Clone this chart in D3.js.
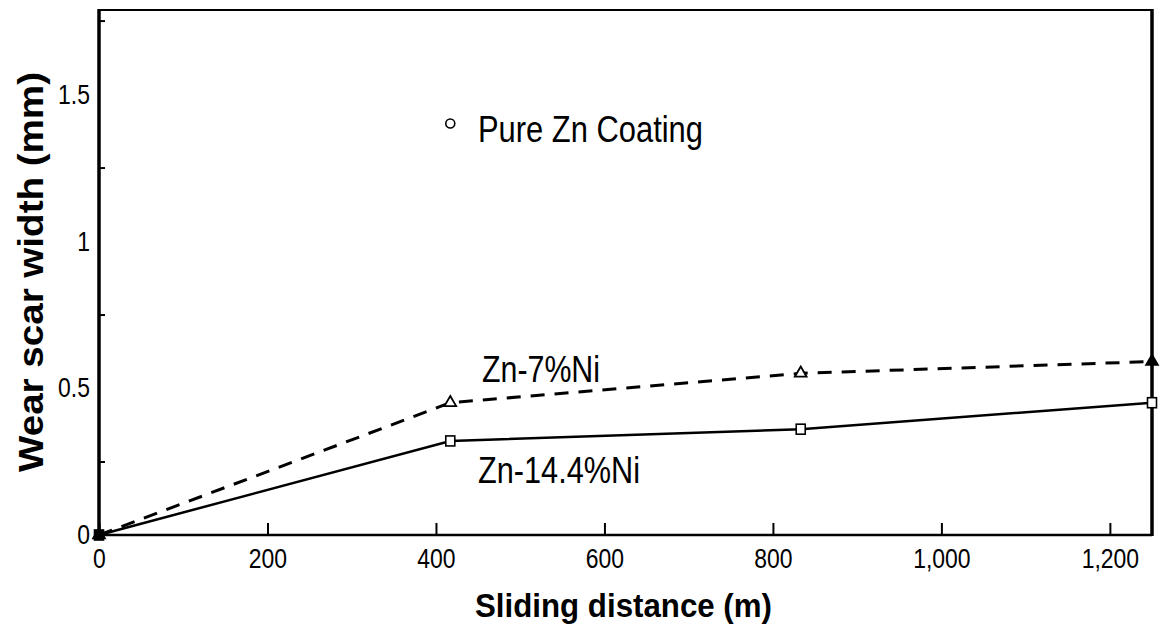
<!DOCTYPE html>
<html>
<head>
<meta charset="utf-8">
<script src="https://cdn.jsdelivr.net/npm/d3@7"></script>
<style>
  html, body { margin: 0; padding: 0; background: #fff; }
  svg { display: block; }
</style>
</head>
<body>
<svg id="chart" width="1162" height="630"></svg>
<script>
// Sliding distance (m) at which wear scar width was measured
const distance = [0, 417, 833, 1250];
// Wear scar width (mm) per coating
const zn14Ni = [0, 0.32, 0.36, 0.45];
const zn7Ni = [0, 0.45, 0.55, 0.59];
const pureZnDistance = [417];
const pureZnWidth = [1.40];

// Axis ticks
const xTicks = [0, 200, 400, 600, 800, 1000, 1200];
const xTickLabels = ["0", "200", "400", "600", "800", "1,000", "1,200"];
const yLabelValues = [0, 0.5, 1, 1.5];
const yLabelText = ["0", "0.5", "1", "1.5"];
const yTickMarks = [0.25, 0.75, 1.25, 1.75];

const svg = d3.select("#chart");
const plot = { left: 99, right: 1152, top: 10, bottom: 535 };

const x = d3.scaleLinear().domain([0, 1250]).range([plot.left, plot.right]);
const y = d3.scaleLinear().domain([0, 1.786]).range([plot.bottom, plot.top]);

const sans = "'Liberation Sans', Arial, Helvetica, sans-serif";
const squeeze = "scale(0.82,1)"; // condensed lettering for numbers

// x axis: inward ticks with labels below
const xAxis = d3.axisBottom(x)
  .tickValues(xTicks)
  .tickSize(-12)
  .tickPadding(13)
  .tickFormat((d, i) => xTickLabels[i]);
const gx = svg.append("g")
  .attr("transform", `translate(0,${plot.bottom})`)
  .call(xAxis);
gx.select(".domain").remove();
gx.selectAll(".tick line").attr("stroke", "#000").attr("stroke-width", 2);
gx.selectAll(".tick text")
  .attr("fill", "#000")
  .attr("transform", squeeze)
  .style("font-family", sans)
  .style("font-size", "28px");

// y axis: unlabeled inward ticks at quarter values
const gyTicks = svg.append("g")
  .attr("transform", `translate(${plot.left},0)`)
  .call(d3.axisLeft(y).tickValues(yTickMarks).tickSize(-6).tickFormat(""));
gyTicks.select(".domain").remove();
gyTicks.selectAll(".tick line").attr("stroke", "#000").attr("stroke-width", 2);

// y axis labels at half values
const gyLabels = svg.append("g")
  .attr("transform", `translate(${plot.left},0)`)
  .call(d3.axisLeft(y).tickValues(yLabelValues).tickSize(0).tickPadding(11)
    .tickFormat((d, i) => yLabelText[i]));
gyLabels.select(".domain").remove();
gyLabels.selectAll(".tick text")
  .attr("fill", "#000")
  .attr("transform", squeeze)
  .style("font-family", sans)
  .style("font-size", "28px");

// frame
const frame = svg.append("g").attr("stroke", "#000").attr("fill", "none");
frame.append("line").attr("x1", plot.left).attr("x2", plot.left)
  .attr("y1", plot.top - 1).attr("y2", plot.bottom + 1).attr("stroke-width", 3.5);
frame.append("line").attr("x1", plot.left).attr("x2", plot.right)
  .attr("y1", plot.bottom).attr("y2", plot.bottom).attr("stroke-width", 2.5);
frame.append("line").attr("x1", plot.left).attr("x2", plot.right)
  .attr("y1", plot.top).attr("y2", plot.top).attr("stroke-width", 2);
frame.append("line").attr("x1", plot.right).attr("x2", plot.right)
  .attr("y1", plot.top - 1).attr("y2", plot.bottom + 1).attr("stroke-width", 3.5);

// series lines
const line = d3.line().x((d, i) => x(distance[i])).y(d => y(d));
svg.append("path").datum(zn7Ni)
  .attr("d", line).attr("fill", "none").attr("stroke", "#000")
  .attr("stroke-width", 3).attr("stroke-dasharray", "14,10");
svg.append("path").datum(zn14Ni)
  .attr("d", line).attr("fill", "none").attr("stroke", "#000")
  .attr("stroke-width", 2.5);

// markers
const tri = d3.symbol().type(d3.symbolTriangle).size(60);
svg.append("g").selectAll("path").data(zn7Ni).join("path")
  .attr("d", tri)
  .attr("transform", (d, i) => `translate(${x(distance[i])},${y(d)})`)
  .attr("fill", (d, i) => (i === 0 || i === distance.length - 1) ? "#000" : "#fff")
  .attr("stroke", "#000").attr("stroke-width", 1.8);
svg.append("g").selectAll("rect").data(zn14Ni).join("rect")
  .attr("x", (d, i) => x(distance[i]) - 4.5)
  .attr("y", d => y(d) - 5)
  .attr("width", 9).attr("height", 10)
  .attr("fill", (d, i) => i === 0 ? "#000" : "#fff")
  .attr("stroke", "#000").attr("stroke-width", 1.6);
svg.append("g").selectAll("circle").data(pureZnWidth).join("circle")
  .attr("cx", (d, i) => x(pureZnDistance[i]))
  .attr("cy", d => y(d))
  .attr("r", 4.5)
  .attr("fill", "#fff").attr("stroke", "#000").attr("stroke-width", 1.6);

// series labels
const labels = [
  { text: "Pure Zn Coating", x: 478, y: 142, len: 225 },
  { text: "Zn-7%Ni", x: 482, y: 382, len: 118 },
  { text: "Zn-14.4%Ni", x: 478, y: 483, len: 162 }
];
svg.append("g").selectAll("text").data(labels).join("text")
  .attr("x", d => d.x).attr("y", d => d.y)
  .attr("textLength", d => d.len).attr("lengthAdjust", "spacingAndGlyphs")
  .style("font-family", sans).style("font-size", "37px")
  .attr("fill", "#000")
  .text(d => d.text);

// axis titles
svg.append("text")
  .attr("x", (plot.left + plot.right) / 2 - 2).attr("y", 617)
  .attr("text-anchor", "middle")
  .attr("textLength", 297).attr("lengthAdjust", "spacingAndGlyphs")
  .style("font-family", sans).style("font-size", "34px").style("font-weight", "bold")
  .text("Sliding distance (m)");
svg.append("text")
  .attr("transform", "translate(43,272) rotate(-90)")
  .attr("text-anchor", "middle")
  .attr("textLength", 400).attr("lengthAdjust", "spacingAndGlyphs")
  .style("font-family", sans).style("font-size", "35px").style("font-weight", "bold")
  .text("Wear scar width (mm)");
</script>
</body>
</html>
